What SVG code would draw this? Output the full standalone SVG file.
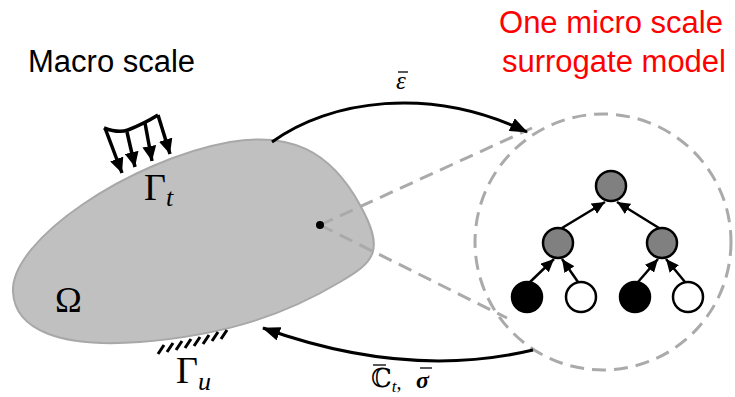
<svg xmlns="http://www.w3.org/2000/svg" width="735" height="397" viewBox="0 0 735 397">
<style>
.sans{font-family:"Liberation Sans",Arial,sans-serif;font-size:31px}
.math{font-family:"Liberation Serif","DejaVu Serif",serif;fill:#000}
.dash{fill:none;stroke:#aaaaaa;stroke-width:3;stroke-dasharray:14 8}
.big{fill:none;stroke:#000;stroke-width:3}
.load{fill:none;stroke:#000;stroke-width:3.5}
.tree{fill:none;stroke:#000;stroke-width:2.5}
.node{stroke:#000;stroke-width:2.5}
.bar{stroke:#000;stroke-width:1.3}
.hatch{stroke:#000;stroke-width:3}
</style>
<defs>
<marker id="ah" markerUnits="userSpaceOnUse" markerWidth="18" markerHeight="14" refX="17" refY="7" orient="auto"><path d="M0,0 L18,7 L0,14 z" fill="#000"/></marker>
<marker id="th" markerUnits="userSpaceOnUse" markerWidth="13" markerHeight="12" refX="13" refY="6" orient="auto"><path d="M0,0 L13,6 L0,12 z" fill="#000"/></marker>
<marker id="lh" markerUnits="userSpaceOnUse" markerWidth="15" markerHeight="14" refX="15" refY="7" orient="auto"><path d="M0,0 L15,7 L0,14 z" fill="#000"/></marker>
</defs>
<g id="macro-label"><text class="sans" x="28" y="72" fill="#000">Macro scale</text></g>
<g id="micro-label"><text class="sans" fill="#ff0000" text-anchor="middle"><tspan x="611" y="33">One micro scale</tspan><tspan x="614" y="72">surrogate model</tspan></text></g>
<g id="domain">
<path d="M13,292 C10,240 130,160 230,142 C290,132 330,150 360,205 C385,250 375,262 340,282 C290,312 230,335 140,342 C60,348 15,330 13,292 Z" fill="#c0c0c0" stroke="#a8a8a8" stroke-width="2"/>
<text class="math" x="55" y="312" font-size="36">Ω</text>
<text class="math" x="144" y="200" font-size="38">Γ<tspan font-style="italic" font-size="26" dy="6">t</tspan></text>
</g>
<g id="traction">
<path class="load" d="M104,128 C112,131 120,133 128,130 C138,126 150,120 158,115"/>
<line class="load" x1="105" y1="128" x2="122" y2="173" marker-end="url(#lh)"/>
<line class="load" x1="127" y1="132" x2="135" y2="167" marker-end="url(#lh)"/>
<line class="load" x1="145" y1="123" x2="152" y2="161" marker-end="url(#lh)"/>
<line class="load" x1="158" y1="115" x2="170" y2="154" marker-end="url(#lh)"/>
</g>
<g id="support">
<line class="hatch" x1="158" y1="354" x2="164" y2="345"/>
<line class="hatch" x1="167" y1="352" x2="173" y2="343"/>
<line class="hatch" x1="176" y1="350" x2="182" y2="341"/>
<line class="hatch" x1="185" y1="348" x2="191" y2="339"/>
<line class="hatch" x1="194" y1="346" x2="200" y2="337"/>
<line class="hatch" x1="203" y1="344" x2="209" y2="335"/>
<line class="hatch" x1="212" y1="341" x2="218" y2="332"/>
<line class="hatch" x1="221" y1="339" x2="227" y2="330"/>
<text class="math" x="176" y="383" font-size="38">Γ<tspan font-style="italic" font-size="26" dy="7">u</tspan></text>
</g>
<g id="zoom-lines">
<line class="dash" x1="320" y1="225" x2="532" y2="128"/>
<line class="dash" x1="320" y1="225" x2="507" y2="318"/>
<circle class="dash" cx="603" cy="242" r="128"/>
</g>
<g id="point"><circle cx="320" cy="225" r="4" fill="#000"/></g>
<g id="connectors">
<path class="big" d="M272,142 C330,100 430,85 527,132" marker-end="url(#ah)"/>
<path class="big" d="M533,350 C470,365 380,370 263,328" marker-end="url(#ah)"/>
<line class="tree" x1="562" y1="228" x2="605" y2="202" marker-end="url(#th)"/>
<line class="tree" x1="659" y1="228" x2="617" y2="202" marker-end="url(#th)"/>
<line class="tree" x1="530" y1="282" x2="554" y2="259" marker-end="url(#th)"/>
<line class="tree" x1="578" y1="282" x2="562" y2="259" marker-end="url(#th)"/>
<line class="tree" x1="638" y1="282" x2="658" y2="259" marker-end="url(#th)"/>
<line class="tree" x1="685" y1="282" x2="666" y2="259" marker-end="url(#th)"/>
</g>
<g id="labels">
<text class="math" x="396" y="89" font-size="25" font-style="italic">ε</text>
<line class="bar" x1="398" y1="72" x2="408" y2="72"/>
<text class="math" x="371" y="387" font-size="26" font-family="DejaVu Serif">ℂ<tspan font-style="italic" font-size="17" dy="5">t</tspan><tspan font-size="20" dy="-3">,</tspan></text>
<text class="math" x="416" y="388" font-size="24" font-style="italic" font-weight="bold">σ</text>
<line class="bar" x1="373" y1="365" x2="386" y2="365"/>
<line class="bar" x1="420" y1="368" x2="432" y2="368"/>
</g>
<g id="root"><circle class="node" cx="611" cy="186" r="15" fill="#808080"/></g>
<g id="mid-left"><circle class="node" cx="558" cy="243" r="15" fill="#808080"/></g>
<g id="mid-right"><circle class="node" cx="662" cy="243" r="15" fill="#808080"/></g>
<g id="leaf1"><circle class="node" cx="527" cy="297" r="15" fill="#000"/></g>
<g id="leaf2"><circle class="node" cx="581" cy="297" r="15" fill="#fff"/></g>
<g id="leaf3"><circle class="node" cx="635" cy="297" r="15" fill="#000"/></g>
<g id="leaf4"><circle class="node" cx="688" cy="297" r="15" fill="#fff"/></g>
</svg>
